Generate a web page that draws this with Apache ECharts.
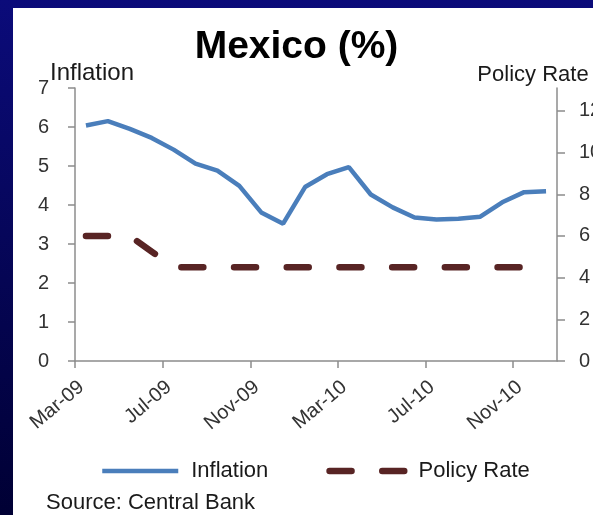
<!DOCTYPE html>
<html><head><meta charset="utf-8">
<script src="https://cdn.jsdelivr.net/npm/echarts@6/dist/echarts.min.js"></script>
<style>
html,body{margin:0;padding:0;width:593px;height:515px;overflow:hidden;background:linear-gradient(#0b0b7a,#000034);}
#c{width:593px;height:515px;}
</style>
</head><body><div id="c"></div>
<script>
const months = ['Mar-09','Apr-09','May-09','Jun-09','Jul-09','Aug-09','Sep-09','Oct-09','Nov-09','Dec-09',
  'Jan-10','Feb-10','Mar-10','Apr-10','May-10','Jun-10','Jul-10','Aug-10','Sep-10','Oct-10','Nov-10','Dec-10'];
const inflation = [6.04,6.15,5.95,5.72,5.42,5.06,4.88,4.49,3.81,3.52,4.46,4.79,4.97,4.27,3.94,3.68,3.63,3.65,3.70,4.07,4.33,4.35];
const policyRate = [6.0,6.0,6.0,5.25,4.5,4.5,4.5,4.5,4.5,4.5,4.5,4.5,4.5,4.5,4.5,4.5,4.5,4.5,4.5,4.5,4.5,4.5];
const xTickLabels = ['Mar-09','Jul-09','Nov-09','Mar-10','Jul-10','Nov-10'];
const xTickStep = 4;
const leftTicks = [0,1,2,3,4,5,6,7];
const rightTicks = [0,2,4,6,8,10,12];

const FONT = 'Liberation Sans';
const toPts = arr => arr.map((v,i) => [i + 0.5, v]);

const chart = echarts.init(document.getElementById('c'));
chart.setOption({
  animation: false,
  backgroundColor: 'transparent',
  textStyle: {fontFamily: FONT},
  title: {
    text: 'Mexico (%)', left: 'center', top: 23,
    textStyle: {fontFamily: FONT, fontSize: 39, fontWeight: 'bold', color: '#000'}
  },
  graphic: [
    {type: 'rect', left: 13, top: 8, shape: {width: 580, height: 507}, style: {fill: '#fff'}, z: -10, silent: true},
    {type: 'text', left: 46, top: 492, style: {text: 'Source: Central Bank', font: '22px "Liberation Sans"', fill: '#1a1a1a'}}
  ],
  grid: {left: 75, right: 36, top: 88, bottom: 154, containLabel: false, outerBoundsMode: 'none'},
  legend: {
    left: 95, top: 455, itemWidth: 76, itemHeight: 14, itemGap: 58,
    itemStyle: {color: 'transparent', borderWidth: 0},
    lineStyle: {width: 'inherit', type: 'inherit', cap: 'inherit'},
    textStyle: {fontSize: 22, color: '#1a1a1a', padding: [0, 0, 0, 8], fontFamily: FONT},
    data: [{name: 'Inflation'}, {name: 'Policy Rate'}]
  },
  xAxis: {
    type: 'value', min: 0, max: months.length, interval: xTickStep,
    axisLine: {show: true, lineStyle: {color: '#8c8c8c', width: 1.5}},
    axisTick: {show: true, inside: false, length: 7, lineStyle: {color: '#8c8c8c', width: 1.5}},
    splitLine: {show: false},
    axisLabel: {
      rotate: 40, margin: 16, fontSize: 20, color: '#333', fontFamily: FONT,
      align: 'right', verticalAlign: 'top',
      showMaxLabel: false, hideOverlap: false,
      formatter: v => (v % xTickStep === 0 && v / xTickStep < xTickLabels.length) ? xTickLabels[v / xTickStep] : ''
    }
  },
  yAxis: [
    {
      type: 'value', min: leftTicks[0], max: leftTicks[leftTicks.length-1], interval: 1, position: 'left',
      name: 'Inflation', nameLocation: 'end', nameGap: 3, nameMoveOverlap: false,
      nameTextStyle: {fontSize: 24, color: '#1a1a1a', padding: [0, 0, 0, 34], fontFamily: FONT},
      axisLine: {show: true, lineStyle: {color: '#8c8c8c', width: 1.5}},
      axisTick: {show: true, length: 7, lineStyle: {color: '#8c8c8c', width: 1.5}},
      splitLine: {show: false},
      axisLabel: {fontSize: 20, color: '#333', margin: 26, fontFamily: FONT}
    },
    {
      type: 'value', min: rightTicks[0], max: 13.1, interval: 2, position: 'right',
      name: 'Policy Rate', nameLocation: 'end', nameGap: 2, nameMoveOverlap: false,
      nameTextStyle: {fontSize: 22, color: '#1a1a1a', padding: [0, 48, 0, 0], fontFamily: FONT},
      axisLine: {show: true, lineStyle: {color: '#8c8c8c', width: 1.5}},
      axisTick: {show: true, length: 8, lineStyle: {color: '#8c8c8c', width: 1.5}},
      splitLine: {show: false},
      axisLabel: {fontSize: 20, color: '#333', margin: 22, fontFamily: FONT, showMaxLabel: false,
        formatter: v => rightTicks.includes(v) ? String(v) : ''}
    }
  ],
  series: [
    {
      name: 'Inflation', type: 'line', yAxisIndex: 0, data: toPts(inflation),
      symbol: 'none', lineStyle: {color: '#4a7ebb', width: 4.5}, itemStyle: {color: '#4a7ebb'}
    },
    {
      name: 'Policy Rate', type: 'line', yAxisIndex: 1, data: toPts(policyRate),
      symbol: 'none', lineStyle: {color: '#582424', width: 6.5, type: [22, 30.7], cap: 'round'},
      itemStyle: {color: '#582424'}
    }
  ]
});
</script>
</body></html>
